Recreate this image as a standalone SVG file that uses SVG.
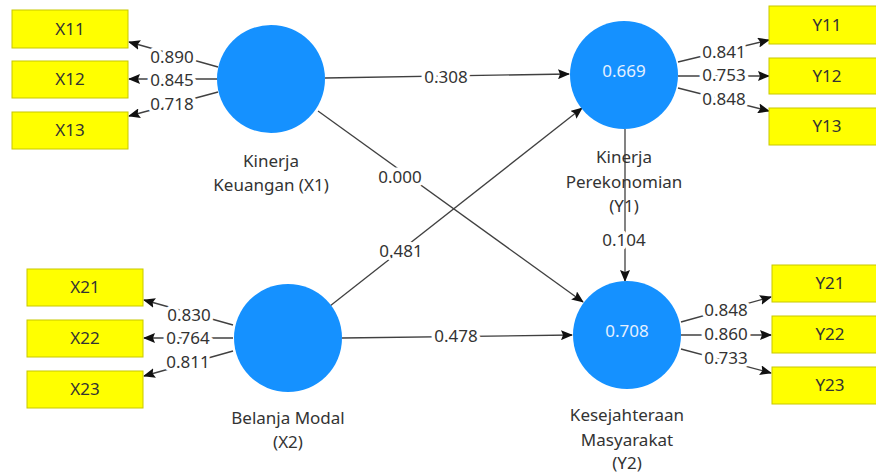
<svg xmlns="http://www.w3.org/2000/svg" width="876" height="475" viewBox="0 0 876 475">
<style>
.box{fill:#ffff00;stroke:#c8c800;stroke-width:1}
.bt{font-family:"Noto Sans","Open Sans",sans-serif;font-size:17px;fill:#333;text-anchor:middle}
.lv{fill:#1591ff}
.r2{font-family:"Noto Sans","Open Sans",sans-serif;font-size:17px;fill:#e4f0ff;text-anchor:middle}
.nl{font-family:"Noto Sans","Open Sans",sans-serif;font-size:17px;fill:#333;text-anchor:middle}
.ln{stroke:#404040;stroke-width:1.3;fill:none;marker-end:url(#ah)}
.lb{font-family:"Noto Sans","Open Sans",sans-serif;font-size:17px;fill:#333;text-anchor:middle;stroke:#fff;stroke-width:7;paint-order:stroke;stroke-linejoin:round}
</style>
<defs>
<marker id="ah" markerUnits="userSpaceOnUse" markerWidth="12" markerHeight="10" refX="11" refY="5" orient="auto">
<path d="M0,0 L12,5 L0,10 L2,5 z" fill="#111"/>
</marker>
</defs>
<rect width="876" height="475" fill="#fff"/>
<g id="connectors">
<line class="ln" x1="218" y1="67" x2="129" y2="42"/>
<line class="ln" x1="218" y1="79" x2="129" y2="79"/>
<line class="ln" x1="218" y1="92" x2="129" y2="116"/>
<line class="ln" x1="233" y1="325" x2="144" y2="300"/>
<line class="ln" x1="233" y1="338" x2="144" y2="338"/>
<line class="ln" x1="233" y1="351" x2="144" y2="376"/>
<line class="ln" x1="678" y1="62" x2="769" y2="40"/>
<line class="ln" x1="678" y1="76" x2="769" y2="76"/>
<line class="ln" x1="678" y1="88" x2="769" y2="111"/>
<line class="ln" x1="681" y1="322" x2="771" y2="297"/>
<line class="ln" x1="681" y1="335" x2="771" y2="335"/>
<line class="ln" x1="681" y1="349" x2="771" y2="373"/>
<line class="ln" x1="325" y1="78" x2="569" y2="74"/>
<line class="ln" x1="318" y1="111" x2="583" y2="302"/>
<line class="ln" x1="330" y1="306" x2="582" y2="108"/>
<line class="ln" x1="342" y1="338" x2="572" y2="335"/>
<line class="ln" x1="625" y1="129" x2="625" y2="281"/>
<text class="lb" x="172" y="63">0.890</text>
<text class="lb" x="172" y="86">0.845</text>
<text class="lb" x="172" y="110">0.718</text>
<text class="lb" x="189" y="321">0.830</text>
<text class="lb" x="188" y="344">0.764</text>
<text class="lb" x="188" y="368">0.811</text>
<text class="lb" x="724" y="58">0.841</text>
<text class="lb" x="724" y="81">0.753</text>
<text class="lb" x="724" y="105">0.848</text>
<text class="lb" x="726" y="316">0.848</text>
<text class="lb" x="726" y="340">0.860</text>
<text class="lb" x="726" y="364">0.733</text>
<text class="lb" x="446" y="83">0.308</text>
<text class="lb" x="400" y="183">0.000</text>
<text class="lb" x="401" y="257">0.481</text>
<text class="lb" x="456" y="342">0.478</text>
<text class="lb" x="624" y="246">0.104</text>
</g>
<g id="X11"><rect class="box" x="12" y="10" width="116" height="38"/><text class="bt" x="70" y="35">X11</text></g>
<g id="X12"><rect class="box" x="12" y="61" width="116" height="37"/><text class="bt" x="70" y="85">X12</text></g>
<g id="X13"><rect class="box" x="12" y="112" width="116" height="37"/><text class="bt" x="70" y="136">X13</text></g>
<g id="X21"><rect class="box" x="27" y="269" width="116" height="37"/><text class="bt" x="85" y="293">X21</text></g>
<g id="X22"><rect class="box" x="27" y="320" width="116" height="37"/><text class="bt" x="85" y="344">X22</text></g>
<g id="X23"><rect class="box" x="27" y="371" width="116" height="37"/><text class="bt" x="85" y="395">X23</text></g>
<g id="Y11"><rect class="box" x="769" y="6" width="116" height="38"/><text class="bt" x="827" y="31">Y11</text></g>
<g id="Y12"><rect class="box" x="769" y="58" width="116" height="36"/><text class="bt" x="827" y="82">Y12</text></g>
<g id="Y13"><rect class="box" x="769" y="108" width="116" height="37"/><text class="bt" x="827" y="132">Y13</text></g>
<g id="Y21"><rect class="box" x="772" y="265" width="116" height="37"/><text class="bt" x="830" y="289">Y21</text></g>
<g id="Y22"><rect class="box" x="772" y="316" width="116" height="37"/><text class="bt" x="830" y="340">Y22</text></g>
<g id="Y23"><rect class="box" x="772" y="367" width="116" height="37"/><text class="bt" x="830" y="391">Y23</text></g>
<g id="X1"><circle class="lv" cx="271" cy="79" r="54"/><text class="nl" x="271" y="167">Kinerja</text><text class="nl" x="271" y="191">Keuangan (X1)</text></g>
<g id="X2"><circle class="lv" cx="288" cy="338" r="54"/><text class="nl" x="288" y="424">Belanja Modal</text><text class="nl" x="288" y="448">(X2)</text></g>
<g id="Y1"><circle class="lv" cx="624" cy="75" r="54"/><text class="r2" x="624" y="77">0.669</text><text class="nl" x="624" y="163">Kinerja</text><text class="nl" x="624" y="188">Perekonomian</text><text class="nl" x="624" y="212">(Y1)</text></g>
<g id="Y2"><circle class="lv" cx="627" cy="335" r="54"/><text class="r2" x="627" y="337">0.708</text><text class="nl" x="627" y="421">Kesejahteraan</text><text class="nl" x="627" y="446">Masyarakat</text><text class="nl" x="627" y="469">(Y2)</text></g>
</svg>
